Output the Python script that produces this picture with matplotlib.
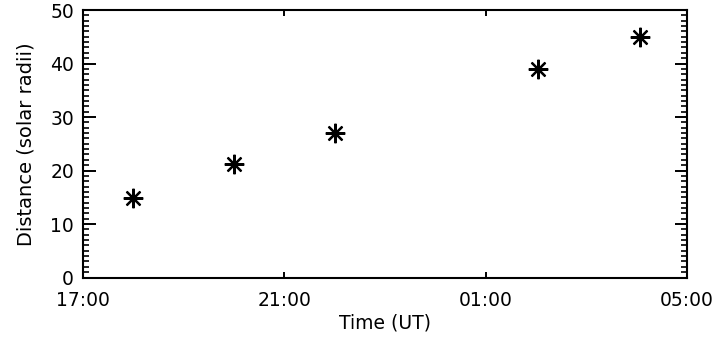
import matplotlib
matplotlib.use("Agg")
import matplotlib.pyplot as plt
from matplotlib.ticker import MultipleLocator

# hours after 17:00 UT
hours = [1.0, 3.0, 5.0, 9.03, 11.06]
distance = [14.8, 21.3, 27.0, 39.0, 44.9]

time_ticks = [0, 4, 8, 12]
time_labels = ["17:00", "21:00", "01:00", "05:00"]

plt.rcParams['font.family'] = ['DejaVu Sans']

fig = plt.figure(figsize=(7.17, 3.41), dpi=100)
ax = fig.add_axes([83 / 717, 1 - 277.5 / 341, 604 / 717, 267.5 / 341])

ax.plot(hours, distance, linestyle='none', marker=(8, 2, 0),
        markersize=14, markeredgewidth=1.6, color='black')

ax.set_xlim(0, 12)
ax.set_ylim(0, 50)
ax.set_xticks(time_ticks)
ax.set_xticklabels(time_labels)
ax.yaxis.set_major_locator(MultipleLocator(10))
ax.yaxis.set_minor_locator(MultipleLocator(1))

for s in ax.spines.values():
    s.set_linewidth(1.5)

ax.tick_params(axis='x', which='major', direction='in', top=True,
               length=4, width=1.4, labelsize=13.5, pad=10)
ax.tick_params(axis='y', which='major', direction='in', right=True,
               length=9, width=1.4, labelsize=13.5, pad=6.5)
ax.tick_params(axis='y', which='minor', direction='in', right=True,
               length=4.5, width=1.2)

ax.set_xlabel("Time (UT)", fontsize=13.5)
ax.set_ylabel("Distance (solar radii)", fontsize=14)
ax.xaxis.set_label_coords(0.5, -0.135)
ax.yaxis.set_label_coords(-0.078, 0.5)

fig.savefig("out.png", dpi=100)
